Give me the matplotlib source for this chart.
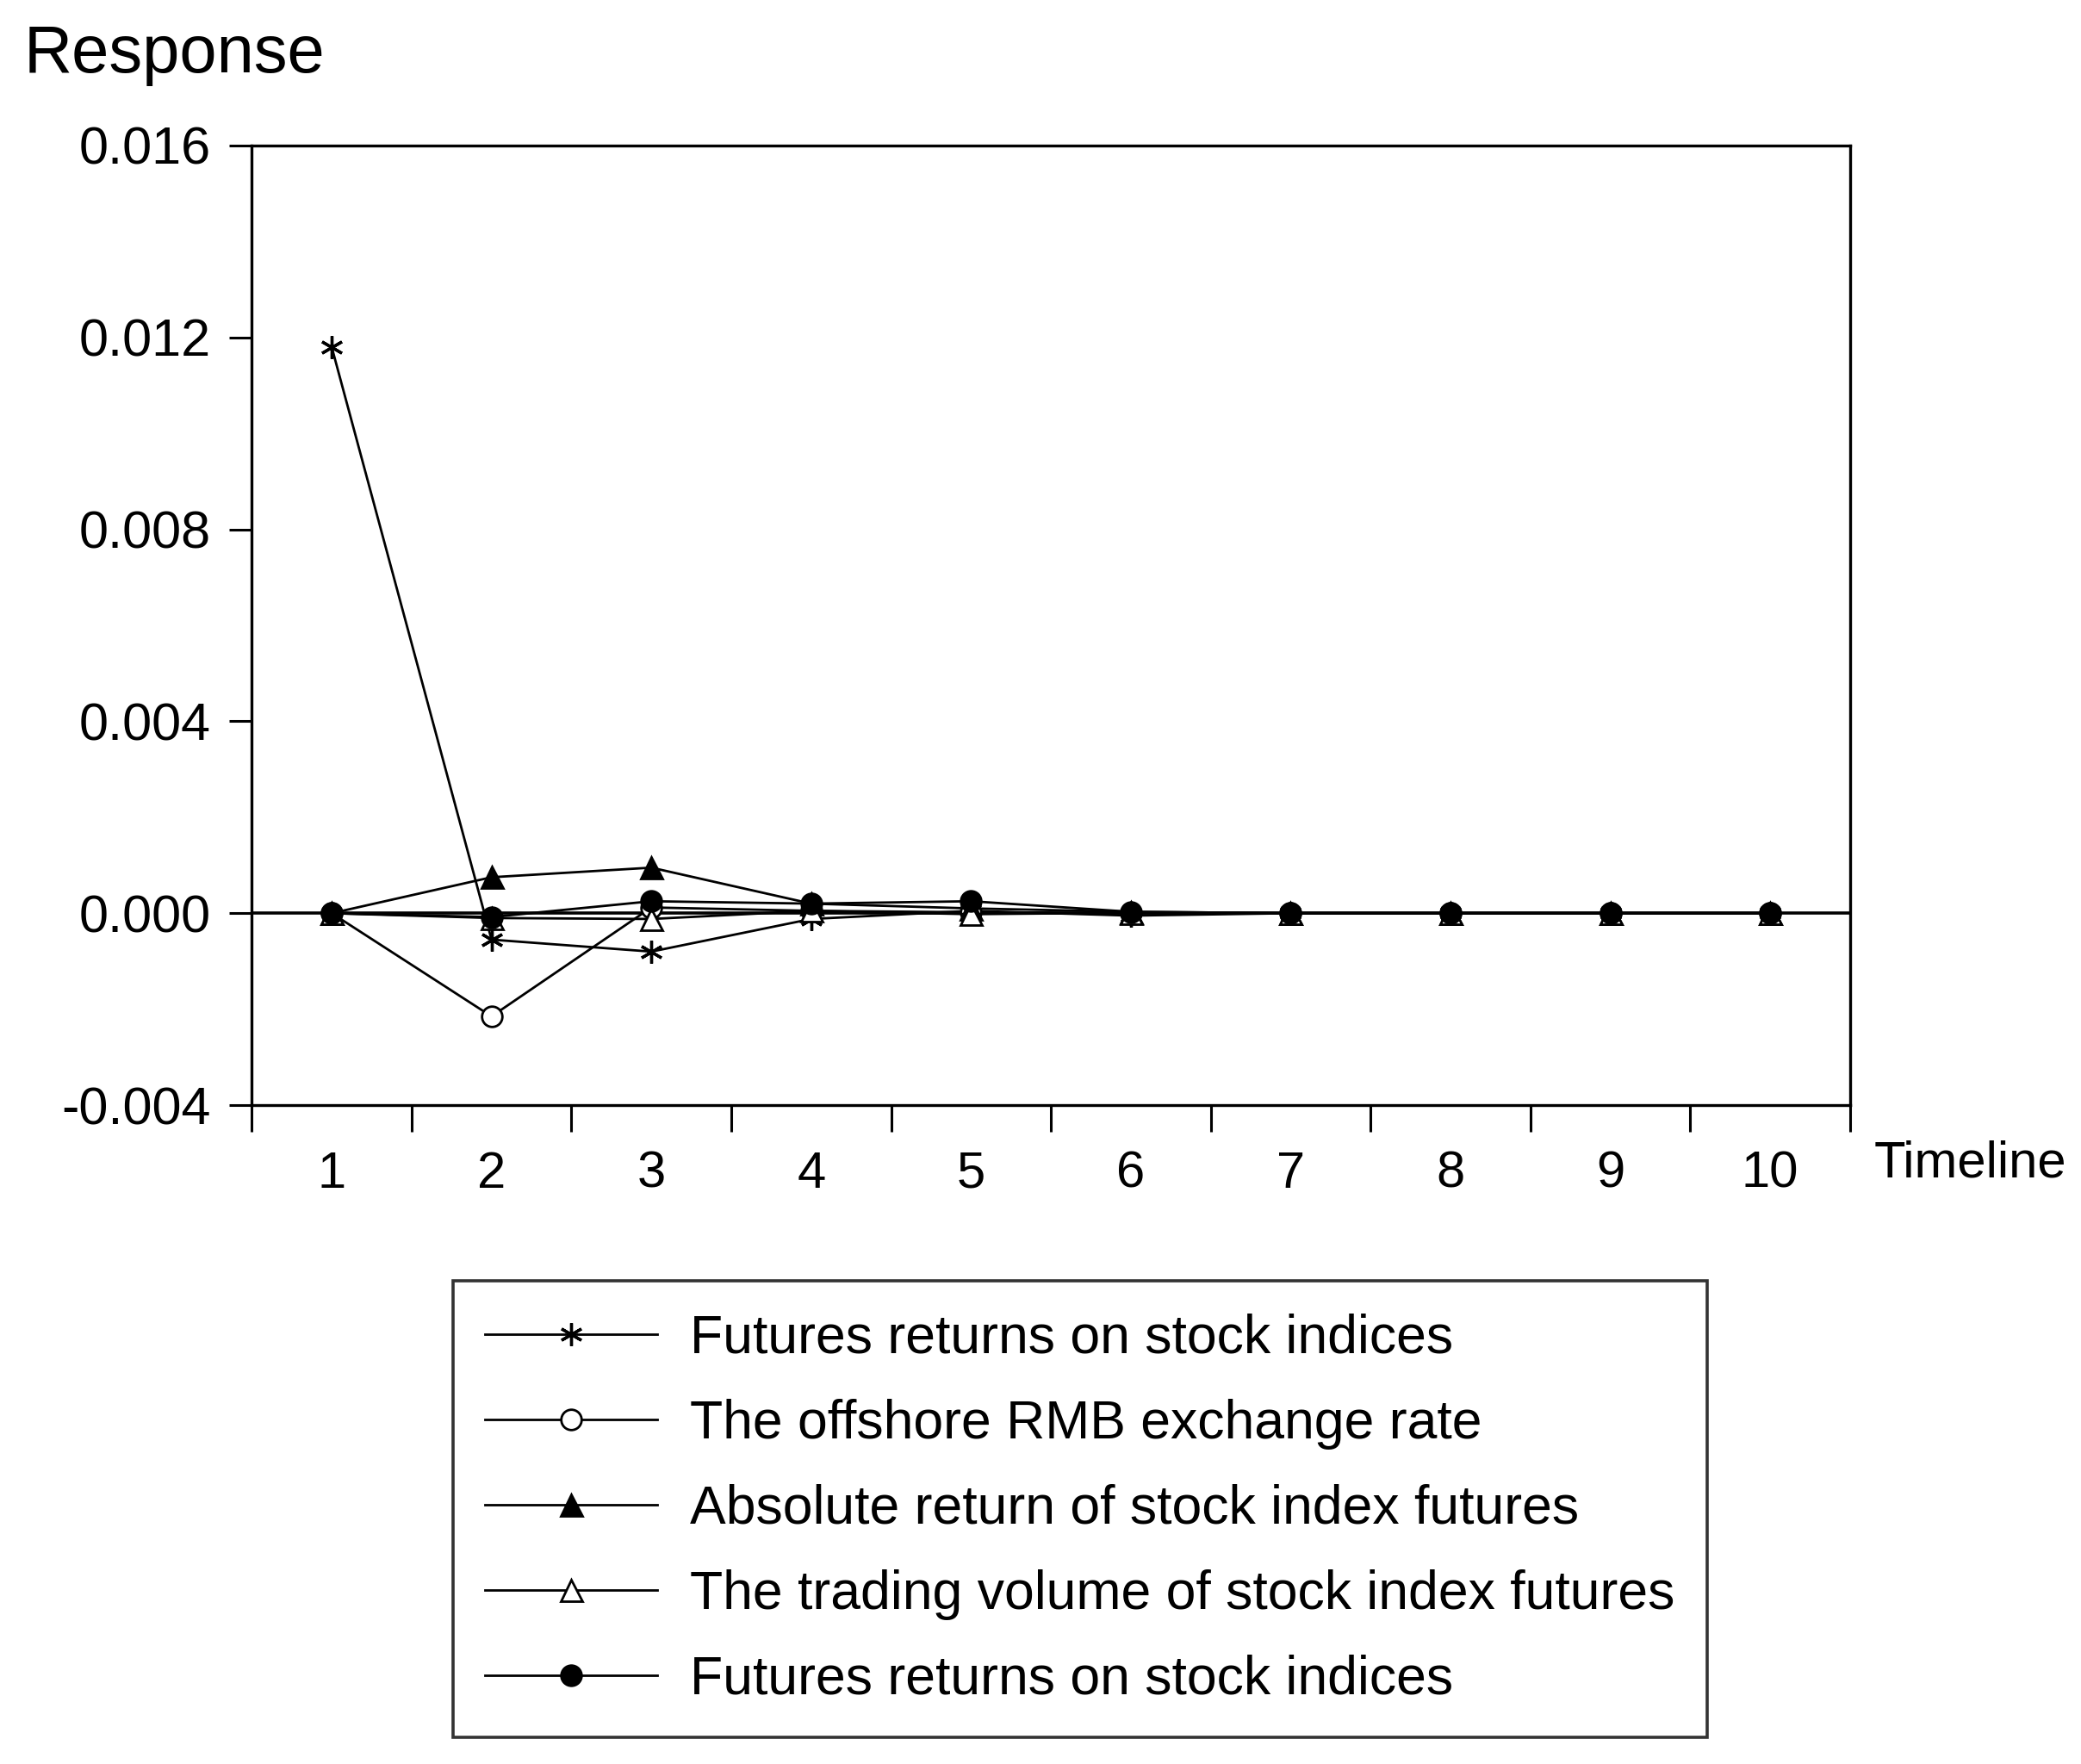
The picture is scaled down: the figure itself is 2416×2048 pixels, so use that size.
import matplotlib
matplotlib.use("Agg")
import matplotlib.pyplot as plt
from matplotlib.ticker import FixedLocator, NullFormatter, FixedFormatter

plt.rcParams['font.family'] = ['Liberation Sans', 'DejaVu Sans']
plt.rcParams['axes.unicode_minus'] = False

# impulse response values
periods = [1, 2, 3, 4, 5, 6, 7, 8, 9, 10]
futures_returns = [0.0118, -0.00055, -0.0008, -0.00012, 0.00005, -0.00005, 0.0, 0.0, 0.0, 0.0]
offshore_rmb = [0.0, -0.00215, 0.00012, 0.00005, 0.00002, 0.0, 0.0, 0.0, 0.0, 0.0]
abs_return = [0.0, 0.00075, 0.00095, 0.0002, 0.0001, 0.00003, 0.0, 0.0, 0.0, 0.0]
trading_volume = [0.0, -0.0001, -0.00012, 0.00005, -0.00002, 0.00001, 0.0, 0.0, 0.0, 0.0]
futures_returns_2 = [0.0, -0.00008, 0.00025, 0.0002, 0.00025, 0.00003, 0.0, 0.0, 0.0, 0.0]

labels = [
    "Futures returns on stock indices",
    "The offshore RMB exchange rate",
    "Absolute return of stock index futures",
    "The trading volume of stock index futures",
    "Futures returns on stock indices",
]
y_ticks = [-0.004, 0.000, 0.004, 0.008, 0.012, 0.016]

fig = plt.figure(figsize=(24.16, 20.48), dpi=100)
ax = fig.add_axes([0.121, 0.3735, 0.768, 0.544])

lw = 2.0
ax.axhline(0, color='black', lw=2.6, zorder=1)
styles = [
    dict(marker=(6, 2, 0), markersize=19, mfc='black', mec='black', mew=2.4),
    dict(marker='o', markersize=17, mfc='white', mec='black', mew=2),
    dict(marker='^', markersize=18, mfc='black', mec='black', mew=2),
    dict(marker='^', markersize=18, mfc='white', mec='black', mew=2),
    dict(marker='o', markersize=17, mfc='black', mec='black', mew=2),
]
series = [futures_returns, offshore_rmb, abs_return, trading_volume, futures_returns_2]
handles = []
for vals, st, lab in zip(series, styles, labels):
    h, = ax.plot(periods, vals, color='black', lw=lw, label=lab, zorder=3, **st)
    handles.append(h)

ax.set_xlim(0.5, 10.5)
ax.set_ylim(-0.004, 0.016)
ax.set_yticks(y_ticks)
ax.set_yticklabels([f"{v:.3f}" for v in y_ticks])

ax.xaxis.set_major_locator(FixedLocator([p - 0.5 for p in periods] + [10.5]))
ax.xaxis.set_major_formatter(NullFormatter())
ax.xaxis.set_minor_locator(FixedLocator(periods))
ax.xaxis.set_minor_formatter(FixedFormatter([str(p) for p in periods]))
ax.tick_params(axis='x', which='major', direction='out', length=22, width=2.2)
ax.tick_params(axis='x', which='minor', length=0, pad=38, labelsize=43)
ax.tick_params(axis='y', direction='out', length=19, width=2.2, pad=15, labelsize=44)

for sp in ax.spines.values():
    sp.set_linewidth(2.4)

fig.text(0.0115, 0.969, "Response", fontsize=56, ha='left', va='center')
fig.text(0.9007, 0.3403, "Timeline", fontsize=43, ha='left', va='center')

leg = fig.legend(handles=handles, labels=labels, loc='center', bbox_to_anchor=(0.519, 0.1445),
                 fontsize=45, handlelength=3.2, handletextpad=0.6, labelspacing=0.64,
                 borderpad=0.6, borderaxespad=0, frameon=True, fancybox=False)
leg.get_frame().set_edgecolor('black')
leg.get_frame().set_linewidth(2.6)

fig.savefig("out.png", dpi=100)
